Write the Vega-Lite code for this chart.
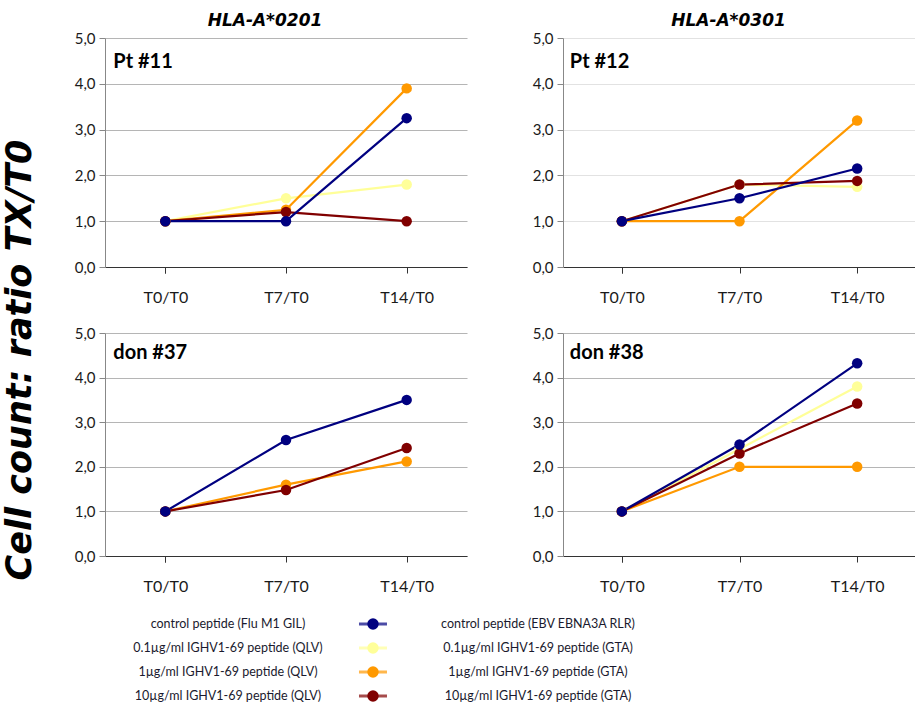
{
  "$schema": "https://vega.github.io/schema/vega-lite/v6.json",
  "padding": {"left": 3, "top": 12, "right": 0, "bottom": 0},
  "background": "white",
  "title": {"text": "Cell count: ratio TX/T0", "orient": "left", "anchor": "middle", "font": "DejaVu Sans", "fontSize": 35, "fontStyle": "italic", "fontWeight": "bold", "color": "#000000", "offset": 36},
  "datasets": {
    "pt11": [
      {"t": "T0/T0", "s": "0.1", "v": 1.0}, {"t": "T7/T0", "s": "0.1", "v": 1.5}, {"t": "T14/T0", "s": "0.1", "v": 1.8},
      {"t": "T0/T0", "s": "1", "v": 1.0}, {"t": "T7/T0", "s": "1", "v": 1.25}, {"t": "T14/T0", "s": "1", "v": 3.9},
      {"t": "T0/T0", "s": "10", "v": 1.0}, {"t": "T7/T0", "s": "10", "v": 1.2}, {"t": "T14/T0", "s": "10", "v": 1.0},
      {"t": "T0/T0", "s": "control", "v": 1.0}, {"t": "T7/T0", "s": "control", "v": 1.0}, {"t": "T14/T0", "s": "control", "v": 3.25}
    ],
    "pt12": [
      {"t": "T0/T0", "s": "0.1", "v": 1.0}, {"t": "T7/T0", "s": "0.1", "v": 1.8}, {"t": "T14/T0", "s": "0.1", "v": 1.75},
      {"t": "T0/T0", "s": "1", "v": 1.0}, {"t": "T7/T0", "s": "1", "v": 1.0}, {"t": "T14/T0", "s": "1", "v": 3.2},
      {"t": "T0/T0", "s": "10", "v": 1.0}, {"t": "T7/T0", "s": "10", "v": 1.8}, {"t": "T14/T0", "s": "10", "v": 1.88},
      {"t": "T0/T0", "s": "control", "v": 1.0}, {"t": "T7/T0", "s": "control", "v": 1.5}, {"t": "T14/T0", "s": "control", "v": 2.15}
    ],
    "don37": [
      {"t": "T0/T0", "s": "1", "v": 1.0}, {"t": "T7/T0", "s": "1", "v": 1.6}, {"t": "T14/T0", "s": "1", "v": 2.12},
      {"t": "T0/T0", "s": "10", "v": 1.0}, {"t": "T7/T0", "s": "10", "v": 1.48}, {"t": "T14/T0", "s": "10", "v": 2.42},
      {"t": "T0/T0", "s": "control", "v": 1.0}, {"t": "T7/T0", "s": "control", "v": 2.6}, {"t": "T14/T0", "s": "control", "v": 3.5}
    ],
    "don38": [
      {"t": "T0/T0", "s": "0.1", "v": 1.0}, {"t": "T7/T0", "s": "0.1", "v": 2.4}, {"t": "T14/T0", "s": "0.1", "v": 3.8},
      {"t": "T0/T0", "s": "1", "v": 1.0}, {"t": "T7/T0", "s": "1", "v": 2.0}, {"t": "T14/T0", "s": "1", "v": 2.0},
      {"t": "T0/T0", "s": "10", "v": 1.0}, {"t": "T7/T0", "s": "10", "v": 2.3}, {"t": "T14/T0", "s": "10", "v": 3.42},
      {"t": "T0/T0", "s": "control", "v": 1.0}, {"t": "T7/T0", "s": "control", "v": 2.5}, {"t": "T14/T0", "s": "control", "v": 4.32}
    ],
    "legend": [
      {"row": 1, "s": "control", "left": "control peptide (Flu M1 GIL)", "right": "control peptide (EBV EBNA3A RLR)"},
      {"row": 2, "s": "0.1", "left": "0.1µg/ml IGHV1-69 peptide (QLV)", "right": "0.1µg/ml IGHV1-69 peptide (GTA)"},
      {"row": 3, "s": "1", "left": "1µg/ml IGHV1-69 peptide (QLV)", "right": "1µg/ml IGHV1-69 peptide (GTA)"},
      {"row": 4, "s": "10", "left": "10µg/ml IGHV1-69 peptide (QLV)", "right": "10µg/ml IGHV1-69 peptide (GTA)"}
    ]
  },
  "config": {
    "view": {"stroke": null},
    "font": "Lato",
    "axisX": {"title": null, "labelAngle": 0, "tickBand": "extent", "domainColor": "#333333", "tickColor": "#333333", "tickSize": 6, "labelFontSize": 16, "labelPadding": 16, "labelColor": "#1a1a1a", "labelFont": "Lato", "grid": false},
    "axisY": {"title": null, "values": [0, 1, 2, 3, 4, 5], "labelExpr": "replace(format(datum.value, '.1f'), '.', ',')", "domainColor": "#888888", "tickColor": "#888888", "tickSize": 6, "gridColor": "#b5b5b5", "gridWidth": 1.2, "labelFontSize": 15, "labelPadding": 4, "labelColor": "#1a1a1a", "labelFont": "Lato"},
    "title": {"font": "DejaVu Sans", "fontSize": 17, "fontStyle": "italic", "fontWeight": "bold", "color": "#000000", "offset": 1},
    "concat": {"spacing": 65}
  },
  "vconcat": [
    {
      "vconcat": [
        {
          "hconcat": [
            {
              "title": {"text": "HLA-A*0201", "dx": -21},
              "width": 362, "height": 229,
              "data": {"name": "pt11"},
              "layer": [
                {"mark": {"type": "line", "strokeWidth": 2.2}, "encoding": {"x": {"field": "t", "type": "nominal", "scale": {"domain": ["T0/T0", "T7/T0", "T14/T0"]}}, "y": {"field": "v", "type": "quantitative", "scale": {"domain": [0, 5], "nice": false}}, "color": {"field": "s", "type": "nominal", "scale": {"domain": ["control", "0.1", "1", "10"], "range": ["#000080", "#ffff99", "#ff9900", "#800000"]}, "legend": null}}},
                {"mark": {"type": "point", "filled": true, "size": 110, "opacity": 1}, "encoding": {"x": {"field": "t", "type": "nominal"}, "y": {"field": "v", "type": "quantitative"}, "color": {"field": "s", "type": "nominal", "legend": null}}},
                {"data": {"values": [{"label": "Pt #11"}]}, "mark": {"type": "text", "align": "left", "baseline": "middle", "fontWeight": "bold", "fontSize": 20, "font": "Lato", "dx": -52}, "encoding": {"x": {"datum": "T0/T0"}, "y": {"datum": 4.48}, "text": {"field": "label"}}}
              ]
            },
            {
              "title": {"text": "HLA-A*0301", "dx": -11},
              "width": 353, "height": 229,
              "data": {"name": "pt12"},
              "layer": [
                {"mark": {"type": "line", "strokeWidth": 2.2}, "encoding": {"x": {"field": "t", "type": "nominal", "scale": {"domain": ["T0/T0", "T7/T0", "T14/T0"]}}, "y": {"field": "v", "type": "quantitative", "scale": {"domain": [0, 5], "nice": false}, "axis": {"gridColor": "#e2e2e2"}}, "color": {"field": "s", "type": "nominal", "scale": {"domain": ["control", "0.1", "1", "10"], "range": ["#000080", "#ffff99", "#ff9900", "#800000"]}, "legend": null}}},
                {"mark": {"type": "point", "filled": true, "size": 110, "opacity": 1}, "encoding": {"x": {"field": "t", "type": "nominal"}, "y": {"field": "v", "type": "quantitative"}, "color": {"field": "s", "type": "nominal", "legend": null}}},
                {"data": {"values": [{"label": "Pt #12"}]}, "mark": {"type": "text", "align": "left", "baseline": "middle", "fontWeight": "bold", "fontSize": 20, "font": "Lato", "dx": -52}, "encoding": {"x": {"datum": "T0/T0"}, "y": {"datum": 4.48}, "text": {"field": "label"}}}
              ]
            }
          ]
        },
        {
          "hconcat": [
            {
              "width": 362, "height": 223,
              "data": {"name": "don37"},
              "layer": [
                {"mark": {"type": "line", "strokeWidth": 2.2}, "encoding": {"x": {"field": "t", "type": "nominal", "scale": {"domain": ["T0/T0", "T7/T0", "T14/T0"]}}, "y": {"field": "v", "type": "quantitative", "scale": {"domain": [0, 5], "nice": false}}, "color": {"field": "s", "type": "nominal", "scale": {"domain": ["control", "0.1", "1", "10"], "range": ["#000080", "#ffff99", "#ff9900", "#800000"]}, "legend": null}}},
                {"mark": {"type": "point", "filled": true, "size": 110, "opacity": 1}, "encoding": {"x": {"field": "t", "type": "nominal"}, "y": {"field": "v", "type": "quantitative"}, "color": {"field": "s", "type": "nominal", "legend": null}}},
                {"data": {"values": [{"label": "don #37"}]}, "mark": {"type": "text", "align": "left", "baseline": "middle", "fontWeight": "bold", "fontSize": 20, "font": "Lato", "dx": -52}, "encoding": {"x": {"datum": "T0/T0"}, "y": {"datum": 4.55}, "text": {"field": "label"}}}
              ]
            },
            {
              "width": 353, "height": 223,
              "data": {"name": "don38"},
              "layer": [
                {"mark": {"type": "line", "strokeWidth": 2.2}, "encoding": {"x": {"field": "t", "type": "nominal", "scale": {"domain": ["T0/T0", "T7/T0", "T14/T0"]}}, "y": {"field": "v", "type": "quantitative", "scale": {"domain": [0, 5], "nice": false}}, "color": {"field": "s", "type": "nominal", "scale": {"domain": ["control", "0.1", "1", "10"], "range": ["#000080", "#ffff99", "#ff9900", "#800000"]}, "legend": null}}},
                {"mark": {"type": "point", "filled": true, "size": 110, "opacity": 1}, "encoding": {"x": {"field": "t", "type": "nominal"}, "y": {"field": "v", "type": "quantitative"}, "color": {"field": "s", "type": "nominal", "legend": null}}},
                {"data": {"values": [{"label": "don #38"}]}, "mark": {"type": "text", "align": "left", "baseline": "middle", "fontWeight": "bold", "fontSize": 20, "font": "Lato", "dx": -52}, "encoding": {"x": {"datum": "T0/T0"}, "y": {"datum": 4.55}, "text": {"field": "label"}}}
              ]
            }
          ]
        }
      ],
      "spacing": 21
    },
    {
      "width": 493, "height": 96,
      "data": {"name": "legend"},
      "encoding": {
        "y": {"field": "row", "type": "ordinal", "axis": null}
      },
      "layer": [
        {"mark": {"type": "tick", "orient": "horizontal", "size": 28, "thickness": 3}, "encoding": {"x": {"datum": "mark", "type": "nominal", "axis": null, "scale": {"domain": ["left", "mark", "right"], "paddingInner": 0, "paddingOuter": 0.1433, "align": 1}}, "color": {"field": "s", "type": "nominal", "scale": {"domain": ["control", "0.1", "1", "10"], "range": ["#000080", "#ffff99", "#ff9900", "#800000"]}, "legend": null}}},
        {"mark": {"type": "point", "filled": true, "size": 130, "opacity": 1}, "encoding": {"x": {"datum": "mark", "type": "nominal"}, "color": {"field": "s", "type": "nominal", "legend": null}}},
        {"mark": {"type": "text", "align": "center", "baseline": "middle", "fontSize": 12.5, "font": "Lato", "color": "#1a1a2e", "dx": 5}, "encoding": {"x": {"datum": "left", "type": "nominal"}, "text": {"field": "left"}}},
        {"mark": {"type": "text", "align": "center", "baseline": "middle", "fontSize": 12.5, "font": "Lato", "color": "#1a1a2e", "dx": 15}, "encoding": {"x": {"datum": "right", "type": "nominal"}, "text": {"field": "right"}}}
      ]
    }
  ],
  "spacing": 18
}
